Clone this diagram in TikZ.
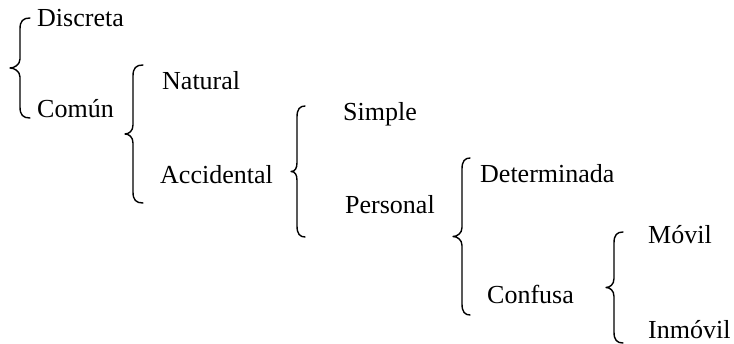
\documentclass[tikz,border=0pt]{standalone}
\usepackage{fontspec}
\setmainfont{Liberation Serif}
\tikzset{
  label/.style={anchor=base west, inner sep=0pt, font=\fontsize{26}{30}\selectfont},
  bracestyle/.style={line width=1.4pt, line cap=round, line join=round}
}
% #1 stem x, #2 tip x, #3 hook x, #4 top y, #5 bottom y
\newcommand\curlybrace[5]{%
  \draw[bracestyle]
    (#3,#4) .. controls (#1+3,#4) and (#1,#4+3) .. (#1,#4+11)
    -- (#1,{(#4+#5)/2-9})
    .. controls (#1,{(#4+#5)/2-3}) and (#2+4,{(#4+#5)/2}) .. (#2,{(#4+#5)/2})
    .. controls (#2+4,{(#4+#5)/2}) and (#1,{(#4+#5)/2+3}) .. (#1,{(#4+#5)/2+9})
    -- (#1,#5-11)
    .. controls (#1,#5-3) and (#1+3,#5) .. (#3,#5);
}
\begin{document}
\begin{tikzpicture}[x=1pt, y=-1pt]
  \useasboundingbox (0,0) rectangle (734,344);

  % labels
  \node[label] (discreta)    at (37,27)   {Discreta};
  \node[label] (comun)       at (37,118)  {Común};
  \node[label] (natural)     at (162,90)  {Natural};
  \node[label] (accidental)  at (160,184) {Accidental};
  \node[label] (simple)      at (343,121) {Simple};
  \node[label] (personal)    at (345,214) {Personal};
  \node[label] (determinada) at (480,183) {Determinada};
  \node[label] (confusa)     at (487,304) {Confusa};
  \node[label] (movil)       at (648,244) {Móvil};
  \node[label] (inmovil)     at (648,339) {Inmóvil};

  % braces
  \curlybrace{20}{10}{30}{18}{118}
  \curlybrace{133}{125}{143}{65}{203}
  \curlybrace{297}{291}{305}{106}{237}
  \curlybrace{462}{453}{470}{158}{315}
  \curlybrace{614}{606}{623}{232}{343}
\end{tikzpicture}
\end{document}
